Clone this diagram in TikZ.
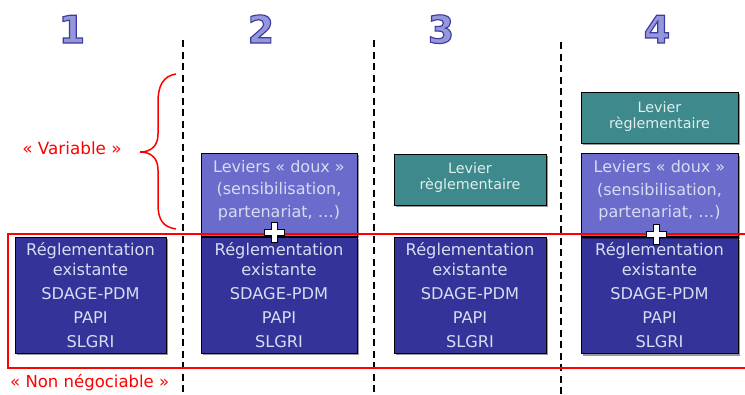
\documentclass[tikz,border=0pt]{standalone}
\usepackage{fontspec}
\setmainfont{DejaVu Sans}
\newfontfamily\numfont[FakeBold=3]{DejaVu Sans Bold}
\usetikzlibrary{shadows}
\definecolor{darkbox}{RGB}{51,51,153}
\definecolor{lightbox}{RGB}{107,107,204}
\definecolor{tealbox}{RGB}{61,137,140}
\definecolor{boxtext}{RGB}{215,220,240}
\definecolor{tealtext}{RGB}{225,238,238}
\definecolor{numfill}{RGB}{150,150,220}
\definecolor{redc}{RGB}{255,0,0}
\newcommand\mynumtext[1]{\color{numfill}\special{pdf:literal direct 0.235 0.235 0.627 RG}#1}
\newcommand\myplus[1]{%
  \draw[fill=white, draw=black, line width=0.8pt, shift={(#1)}]
    (-3,-10) -- (3,-10) -- (3,-3) -- (10,-3) -- (10,3) -- (3,3) -- (3,10)
    -- (-3,10) -- (-3,3) -- (-10,3) -- (-10,-3) -- (-3,-3) -- cycle;
}
\begin{document}
\begin{tikzpicture}[x=1pt,y=-1pt,
  numtxt/.style={font=\fontsize{38}{40}\selectfont\numfont, inner sep=0pt, anchor=base},
  basebox/.style={draw=black, line width=0.8pt, inner sep=0pt, align=center,
    drop shadow={shadow xshift=2pt, shadow yshift=-2pt, opacity=0.4, fill=black}},
  darkb/.style={basebox, fill=darkbox, text=boxtext, minimum height=116pt,
    font=\fontsize{16.2}{20}\selectfont},
  lightb/.style={basebox, fill=lightbox, minimum height=83pt},
  tealb/.style={basebox, fill=tealbox, minimum height=51pt},
  lighttxt/.style={text=boxtext, align=center, inner sep=0pt,
    font=\fontsize{16}{22.5}\selectfont},
  tealtxt/.style={text=tealtext, align=center, inner sep=0pt,
    font=\fontsize{14.3}{16}\selectfont},
  sep/.style={draw=black, line width=2.5pt, dash pattern=on 7pt off 4.5pt},
  redtxt/.style={text=redc, inner sep=0pt}
]
\useasboundingbox (0,0) rectangle (745,394);
\clip (0,0) rectangle (745,394);

% column numbers
\node[numtxt] (n1) at (72,43) {\mynumtext{1}};
\node[numtxt] (n2) at (261,43) {\mynumtext{2}};
\node[numtxt] (n3) at (441,43) {\mynumtext{3}};
\node[numtxt] (n4) at (657,43) {\mynumtext{4}};

% separators
\coordinate (s1t) at (183,40); \coordinate (s1b) at (183,394);
\coordinate (s2t) at (374,40); \coordinate (s2b) at (374,394);
\coordinate (s3t) at (561,42); \coordinate (s3b) at (561,394);
\draw[sep] (s1t) -- (s1b);
\draw[sep] (s2t) -- (s2b);
\draw[sep] (s3t) -- (s3b);

% existing regulation boxes
\node[darkb, minimum width=151pt] (d1) at (90.5,295)
  {Réglementation\\existante\\[4pt]SDAGE-PDM\\[4pt]PAPI\\[4pt]SLGRI};
\node[darkb, minimum width=156pt] (d2) at (279,295)
  {Réglementation\\existante\\[4pt]SDAGE-PDM\\[4pt]PAPI\\[4pt]SLGRI};
\node[darkb, minimum width=152pt] (d3) at (470,295)
  {Réglementation\\existante\\[4pt]SDAGE-PDM\\[4pt]PAPI\\[4pt]SLGRI};
\node[darkb, minimum width=157pt] (d4) at (659.5,295.5)
  {Réglementation\\existante\\[4pt]SDAGE-PDM\\[4pt]PAPI\\[4pt]SLGRI};

% soft levers
\node[lightb, minimum width=156pt] (l2) at (279,194.5) {};
\node[lighttxt] (l2t) at (279,190.5) {Leviers « doux »\\(sensibilisation,\\partenariat, …)};
\node[lightb, minimum width=157pt] (l4) at (659.5,195) {};
\node[lighttxt] (l4t) at (659.5,191) {Leviers « doux »\\(sensibilisation,\\partenariat, …)};

% regulatory levers
\node[tealb, minimum width=152pt] (t3) at (470,179.5) {};
\node[tealtxt] (t3t) at (470,177.5) {Levier\\règlementaire};
\node[tealb, minimum width=157pt] (t4) at (659.5,117.5) {};
\node[tealtxt] (t4t) at (659.5,116.5) {Levier\\règlementaire};

% brace
\draw[redc, line width=1.5pt]
  (176,74) .. controls (163,76) and (158,86) .. (158,102) -- (158,134)
  .. controls (158,146) and (151,152) .. (140,152)
  .. controls (151,152) and (158,158) .. (158,170) -- (158,204)
  .. controls (158,220) and (163,227) .. (176,229);
\node[redtxt, font=\fontsize{16.8}{18}\selectfont] (var) at (72,148) {« Variable »};

% non-negotiable frame
\draw[redc, line width=2pt] (8,234) rectangle (760,368);
\node[redtxt, font=\fontsize{16.5}{18}\selectfont, anchor=west] (nn) at (10,383) {« Non négociable »};

% plus signs
\coordinate (p2) at (274,232.5);
\coordinate (p4) at (656,234);
\myplus{p2}
\myplus{p4}
\end{tikzpicture}
\end{document}
